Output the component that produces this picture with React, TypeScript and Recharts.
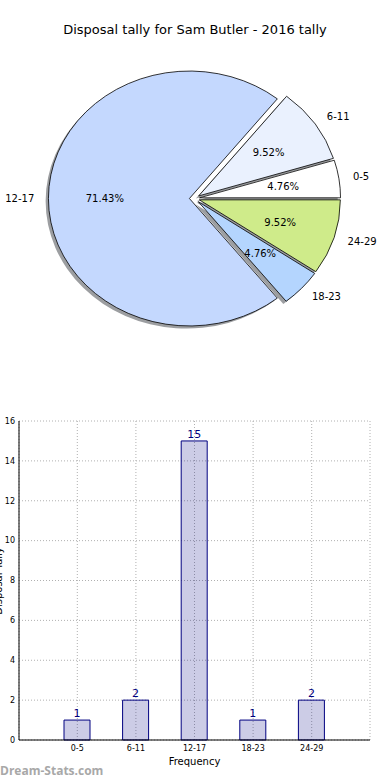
import React from 'react';
import {
  PieChart, Pie, BarChart, Bar, XAxis, YAxis, CartesianGrid, LabelList,
} from 'recharts';

const categories = ['0-5', '6-11', '12-17', '18-23', '24-29'];
const tallies = [1, 2, 15, 1, 2];
const yTicks = [0, 2, 4, 6, 8, 10, 12, 14, 16];

const sliceColors = ['#ffffff', '#eaf1fe', '#c4d8fe', '#b4d5fe', '#cfeb8a'];

const pieData = categories.map((name, i) => ({ name, value: tallies[i] }));
const barData = categories.map((name, i) => ({ name, tally: tallies[i] }));

const FONT = '"DejaVu Sans", sans-serif';
const RAD = Math.PI / 180;
const Y_SQUASH = 0.904; // pie is drawn as an ellipse, like the source
const EXPLODE = 0.036;

// wedge origin after exploding along the mid angle
function geom(p: any) {
  const rx = p.outerRadius;
  const ry = rx * Y_SQUASH;
  const m = p.midAngle * RAD;
  return {
    rx,
    ry,
    ox: p.cx + EXPLODE * rx * Math.cos(m),
    oy: p.cy - EXPLODE * ry * Math.sin(m),
  };
}

function wedgePath(p: any) {
  const { rx, ry, ox, oy } = geom(p);
  const a0 = p.startAngle * RAD;
  const a1 = p.endAngle * RAD;
  const x0 = ox + rx * Math.cos(a0);
  const y0 = oy - ry * Math.sin(a0);
  const x1 = ox + rx * Math.cos(a1);
  const y1 = oy - ry * Math.sin(a1);
  const large = Math.abs(p.endAngle - p.startAngle) > 180 ? 1 : 0;
  return `M${ox},${oy} L${x0},${y0} A${rx},${ry} 0 ${large} 0 ${x1},${y1} Z`;
}

const ShadowLabel = (p: any) => (
  <path d={wedgePath(p)} transform="translate(-2.8, 2.6)" fill="#3a3d44" fillOpacity={0.5} stroke="none" />
);

const WedgeLabel = (p: any) => {
  const { rx, ry, ox, oy } = geom(p);
  const m = p.midAngle * RAD;
  const lx = ox + 1.1 * rx * Math.cos(m);
  const ly = oy - 1.1 * ry * Math.sin(m);
  const px = ox + 0.6 * rx * Math.cos(m);
  const py = oy - 0.6 * ry * Math.sin(m);
  return (
    <g>
      <path d={wedgePath(p)} fill={sliceColors[p.index]} stroke="#000" strokeWidth={0.8} strokeLinejoin="miter" />
      <text x={lx} y={ly} textAnchor={lx > ox ? 'start' : 'end'} dominantBaseline="central"
        fontSize={10} fontFamily={FONT} fill="#000">{p.name}</text>
      <text x={px} y={py} textAnchor="middle" dominantBaseline="central"
        fontSize={10} fontFamily={FONT} fill="#000">{`${(p.percent * 100).toFixed(2)}%`}</text>
    </g>
  );
};

export default function App() {
  return (
    <div style={{ position: 'absolute', left: 0, top: 0, width: 390, height: 780, background: '#fff', fontFamily: FONT, overflow: 'hidden' }}>
      <div style={{ position: 'absolute', top: 21, left: 0, width: 390, textAlign: 'center', fontSize: 13, lineHeight: '18px', color: '#000' }}>
        Disposal tally for Sam Butler - 2016 tally
      </div>

      <div style={{ position: 'absolute', top: 0, left: 0 }}>
        <PieChart width={390} height={360} margin={{ top: 0, right: 0, bottom: 0, left: 0 }}>
          <Pie data={pieData} dataKey="value" nameKey="name" cx={194.5} cy={198.5} outerRadius={141}
            startAngle={0} endAngle={360} fill="none" stroke="none" labelLine={false}
            label={ShadowLabel} isAnimationActive={false} />
          <Pie data={pieData} dataKey="value" nameKey="name" cx={194.5} cy={198.5} outerRadius={141}
            startAngle={0} endAngle={360} fill="none" stroke="none" labelLine={false}
            label={WedgeLabel} isAnimationActive={false} />
        </PieChart>
      </div>

      <div style={{ position: 'absolute', top: 400, left: 0 }}>
        <BarChart width={390} height={380} data={barData} margin={{ top: 21, right: 20, left: 0, bottom: 12 }}>
          <CartesianGrid stroke="#b0b0b0" strokeDasharray="1 2" />
          <XAxis dataKey="name" padding={{ left: 29, right: 29 }} height={28}
            axisLine={{ stroke: '#000' }} tickLine={false} tickSize={0} tickMargin={5}
            tick={{ fontSize: 8, fill: '#000', fontFamily: FONT }}
            label={{ value: 'Frequency', position: 'insideBottom', offset: 3, fontSize: 10, fill: '#000', fontFamily: FONT }} />
          <XAxis xAxisId="top" dataKey="name" orientation="top" height={0} tick={false} tickLine={false}
            axisLine={{ stroke: '#000' }} />
          <YAxis domain={[0, 16]} ticks={yTicks} width={19} interval={0}
            axisLine={{ stroke: '#000' }} tickLine={false} tickSize={0} tickMargin={4}
            tick={{ fontSize: 8, fill: '#000', fontFamily: FONT }} />
          <YAxis yAxisId="right" orientation="right" width={0} domain={[0, 16]} tick={false} tickLine={false}
            axisLine={{ stroke: '#000' }} />
          <Bar dataKey="tally" barSize={26} fill="#000080" fillOpacity={0.2} stroke="#000080" strokeWidth={1}
            isAnimationActive={false}>
            <LabelList dataKey="tally" position="top" offset={3} fill="#000080" fontSize={11} fontFamily={FONT} />
          </Bar>
        </BarChart>
      </div>

      <div style={{ position: 'absolute', left: -3, top: 541, width: 10, height: 80, overflow: 'visible' }}>
        <div style={{ position: 'absolute', left: 0, top: 40, transform: 'translate(-50%, -50%) rotate(-90deg)', fontSize: 10, whiteSpace: 'nowrap', marginLeft: 1 }}>
          Disposal Tally
        </div>
      </div>

      <div style={{ position: 'absolute', left: 0, top: 762, fontSize: 12, fontWeight: 'bold', color: '#a8a8a8', fontFamily: '"Open Sans", sans-serif' }}>
        Dream-Stats.com
      </div>
    </div>
  );
}
